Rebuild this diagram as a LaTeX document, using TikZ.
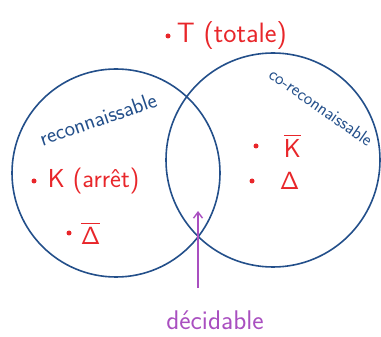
\documentclass[tikz,border=0pt]{standalone}
\usepackage{amsmath,amssymb}
\usepackage{tikz}
\usepackage{xcolor}
\usetikzlibrary{positioning,arrows.meta}
\definecolor{vennblue}{HTML}{234F8A}
\definecolor{elemred}{HTML}{E8262A}
\definecolor{decpurple}{HTML}{A94FC0}

\begin{document}
\begin{tikzpicture}[x=1pt,y=-1pt,
      node distance=4pt and 5pt,
      set/.style={draw=vennblue,line width=1.6pt},
      setlbl/.style={text=vennblue,font=\sffamily\fontsize{22}{24}\selectfont,inner sep=1pt},
      pt/.style={circle,fill=elemred,inner sep=0pt,minimum size=5pt},
      elem/.style={text=elemred,font=\sffamily\fontsize{26}{30}\selectfont,inner sep=1pt},
      arrow/.style={-{Straight Barb[length=6pt,width=9pt]},draw=decpurple,line width=1.4pt}]
    \useasboundingbox (0,0) rectangle (381,337);
    \draw[set] (116,173) circle[radius=104];
    \draw[set] (273,160) circle[radius=107];
    \node[setlbl,rotate=19] (rec) at (98,119) {reconnaissable};
    \node[setlbl,rotate=-35,font=\sffamily\fontsize{18}{20}\selectfont] (corec) at (321,107) {co-reconnaissable};
    \node[pt] (dT) at (168,36) {};
    \node[elem,right=5pt of dT,anchor=west,font=\sffamily\fontsize{28}{32}\selectfont] (T) {T (totale)};
    \node[pt] (dK) at (34,181) {};
    \node[elem,right=10pt of dK,anchor=west] (K) {K (arrêt)};
    \node[pt] (dDb) at (69,233) {};
    \node[elem,right=8pt of dDb,anchor=west] (Db) {$\overline{\mathsf{\Delta}}$};
    \node[pt] (dKb) at (256,146) {};
    \node[elem,right=24pt of dKb,anchor=west] (Kb) {$\overline{\mbox{K}}$};
    \node[pt] (dD) at (252,181) {};
    \node[elem,right=24pt of dD,anchor=west] (D) {$\mathsf{\Delta}$};
    \node[text=decpurple,font=\sffamily\fontsize{27}{30}\selectfont] (dec) at (215,320) {décidable};
    \coordinate (decfoot) at (198,288);
    \coordinate (lens) at (198,211);
    \draw[arrow] (decfoot)--(lens);
  \end{tikzpicture}
\end{document}
